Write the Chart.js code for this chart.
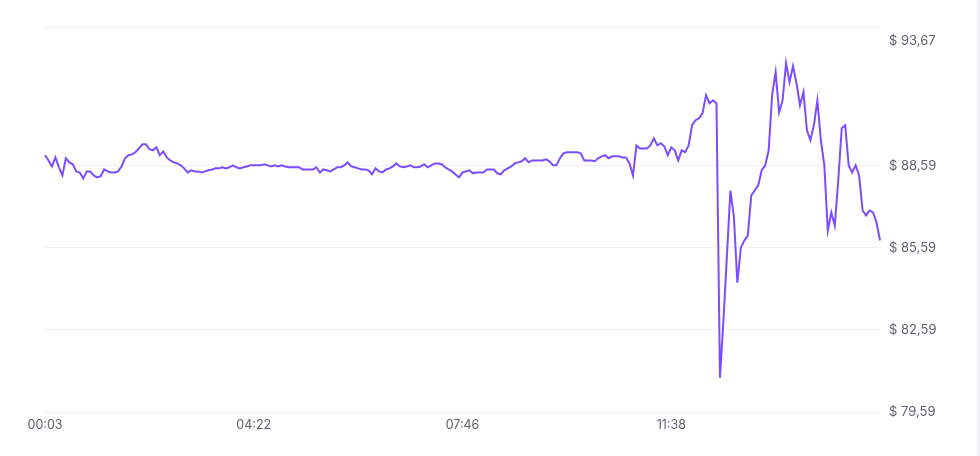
<!DOCTYPE html>
<html>
<head>
<meta charset="utf-8">
<script src="https://cdn.jsdelivr.net/npm/chart.js@4.4.0/dist/chart.umd.min.js"></script>
<style>
    html, body { margin: 0; padding: 0; background: #fff; }
    #wrap {
        width: 977px;
        height: 456px;
        border-right: 3px solid #f4f3f8;
    }
    canvas { display: block; }
</style>
</head>
<body>
<div id="wrap"><canvas id="priceChart" width="977" height="456"></canvas></div>
<script>
/* ── Data ──────────────────────────────────────────────── */
const xTickLabels = ['00:03', '04:22', '07:46', '11:38'];
const TICK_EVERY  = 60;

const yTickValues = [79.59, 82.59, 85.59, 88.59, 93.67];
const Y_MIN = 79.59;
const Y_MAX = 93.67;

const prices = [
    88.98, 88.79, 88.57, 88.90, 88.54, 88.24, 88.87, 88.72, 88.65, 88.39,
    88.35, 88.13, 88.39, 88.39, 88.24, 88.17, 88.21, 88.46, 88.39, 88.35,
    88.35, 88.39, 88.57, 88.87, 88.98, 89.01, 89.09, 89.23, 89.38, 89.38,
    89.20, 89.16, 89.27, 88.98, 89.12, 88.90, 88.79, 88.72, 88.68, 88.61,
    88.50, 88.35, 88.43, 88.39, 88.39, 88.35, 88.39, 88.43, 88.46, 88.50,
    88.50, 88.54, 88.50, 88.54, 88.61, 88.54, 88.50, 88.54, 88.57, 88.61,
    88.61, 88.61, 88.61, 88.65, 88.61, 88.57, 88.61, 88.57, 88.61, 88.57,
    88.54, 88.54, 88.54, 88.54, 88.46, 88.46, 88.46, 88.46, 88.54, 88.35,
    88.46, 88.43, 88.39, 88.46, 88.54, 88.54, 88.61, 88.72, 88.57, 88.54,
    88.50, 88.46, 88.46, 88.43, 88.28, 88.50, 88.39, 88.35, 88.46, 88.50,
    88.57, 88.68, 88.57, 88.54, 88.57, 88.61, 88.54, 88.54, 88.57, 88.65,
    88.54, 88.61, 88.68, 88.68, 88.65, 88.54, 88.46, 88.39, 88.28, 88.17,
    88.35, 88.39, 88.43, 88.32, 88.35, 88.35, 88.35, 88.46, 88.46, 88.46,
    88.32, 88.28, 88.43, 88.50, 88.57, 88.68, 88.72, 88.76, 88.87, 88.72,
    88.79, 88.79, 88.79, 88.79, 88.83, 88.76, 88.61, 88.61, 88.87, 89.05,
    89.09, 89.09, 89.09, 89.09, 89.05, 88.79, 88.79, 88.79, 88.76, 88.87,
    88.94, 88.98, 88.87, 88.94, 88.94, 88.94, 88.90, 88.90, 88.68, 88.24,
    89.34, 89.23, 89.23, 89.23, 89.34, 89.60, 89.34, 89.42, 89.31, 88.98,
    89.27, 89.16, 88.79, 89.16, 89.09, 89.34, 90.08, 90.26, 90.33, 90.52,
    91.18, 90.88, 90.99, 90.88, 80.84, 82.93, 85.31, 87.69, 86.74, 84.32,
    85.60, 85.86, 86.04, 87.51, 87.69, 87.88, 88.43, 88.61, 89.16, 91.18,
    92.02, 90.55, 90.99, 92.35, 91.65, 92.24, 91.62, 90.81, 91.29, 89.89,
    89.53, 90.08, 90.99, 89.53, 88.61, 86.23, 86.89, 86.41, 88.06, 89.97,
    90.08, 88.61, 88.35, 88.61, 88.24, 86.96, 86.78, 86.96, 86.89, 86.52,
    85.86,
];

/* ── Shared styles ─────────────────────────────────────── */
const TEXT_COLOR = '#5d6270';
const GRID_COLOR = '#f1f1f4';
const LINE_COLOR = '#7c4dff';

const labels = prices.map((_, i) =>
    i % TICK_EVERY === 0 && xTickLabels[i / TICK_EVERY] ? xTickLabels[i / TICK_EVERY] : ''
);

function fmtPrice(v) {
    return '$ ' + v.toFixed(2).replace('.', ',');
}

new Chart(document.getElementById('priceChart'), {
    type : 'line',
    data : {
        labels   : labels,
        datasets : [{
            data        : prices,
            borderColor : LINE_COLOR,
            borderWidth : 2,
            pointRadius : 0,
            tension     : 0,
            fill        : false,
        }],
    },
    options : {
        responsive : false,
        animation  : false,
        layout     : { padding: { left: 45, top: 27, right: 0, bottom: 17 } },
        plugins    : {
            legend  : { display: false },
            tooltip : { enabled: false },
        },
        scales : {
            x : {
                offset : false,
                grid   : { display: false, drawTicks: false },
                border : { display: false },
                ticks  : {
                    autoSkip    : false,
                    maxRotation : 0,
                    padding     : 6,
                    color       : TEXT_COLOR,
                    font        : { family: 'Inter', size: 12.5 },
                    callback    : function (v, i) { return labels[i]; },
                },
            },
            y : {
                position : 'right',
                min      : Y_MIN,
                max      : Y_MAX,
                grid     : {
                    color      : GRID_COLOR,
                    drawTicks  : true,
                    tickLength : 9,
                    tickColor  : 'rgba(0,0,0,0)',
                },
                border   : { display: false },
                afterBuildTicks : function (scale) {
                    scale.ticks = yTickValues.map(v => ({ value: v }));
                },
                afterFit : function (scale) { scale.width = 97; },
                ticks : {
                    padding  : 0,
                    color    : TEXT_COLOR,
                    font     : { family: 'Inter', size: 13, lineHeight: 1.1 },
                    callback : function (v) {
                        // top label sits below its grid line in the reference
                        return v === Y_MAX ? ['', '', fmtPrice(v)] : fmtPrice(v);
                    },
                },
            },
        },
    },
});
</script>
</body>
</html>
